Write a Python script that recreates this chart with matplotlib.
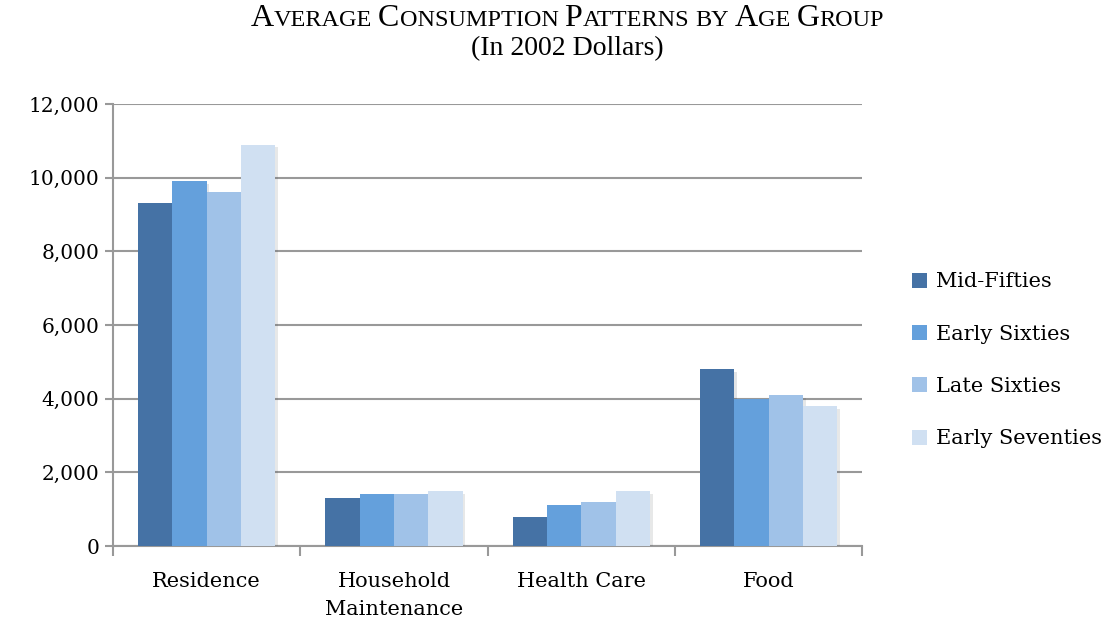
import numpy as np
import matplotlib
matplotlib.use('Agg')
from matplotlib import pyplot as plt
import matplotlib.patheffects as pe
from matplotlib.offsetbox import TextArea, HPacker, AnchoredOffsetbox

categories = ['Residence', 'Household\nMaintenance', 'Health Care', 'Food']
series = ['Mid-Fifties', 'Early Sixties', 'Late Sixties', 'Early Seventies']
mid_fifties = [9300, 1300, 800, 4800]
early_sixties = [9900, 1400, 1100, 4000]
late_sixties = [9600, 1400, 1200, 4100]
early_seventies = [10900, 1500, 1500, 3800]
colors = ['#4572A5', '#64A0DC', '#A0C2E8', '#D0E0F2']

plt.rcParams['font.family'] = 'DejaVu Serif'

fig = plt.figure(figsize=(11.1, 6.25), dpi=100)
ax = fig.add_axes([0.1018, 0.1264, 0.675, 0.7072])

x = np.arange(len(categories))
w = 0.183
values = [mid_fifties, early_sixties, late_sixties, early_seventies]
for i, (name, vals) in enumerate(zip(series, values)):
    ax.bar(x + (i - 1.5) * w, vals, w, color=colors[i], label=name, zorder=3,
           path_effects=[pe.SimplePatchShadow(offset=(2, -2), alpha=0.12), pe.Normal()])

ax.set_xlim(-0.5, 3.5)
ax.set_ylim(0, 12000)
ax.set_yticks(np.arange(0, 12001, 2000))
ax.set_yticklabels(['{:,}'.format(v) for v in range(0, 12001, 2000)], fontsize=14.5)
ax.yaxis.grid(True, color='#999999', linewidth=1.5, zorder=0)
ax.set_xticks(x)
ax.set_xticklabels(categories, fontsize=15, linespacing=1.6)
ax.set_xticks(np.arange(-0.5, 4.0, 1.0), minor=True)
ax.tick_params(axis='x', which='major', length=0, pad=19)
ax.tick_params(axis='x', which='minor', length=7, width=1.5, color='#999999')
ax.tick_params(axis='y', length=6, width=1.5, color='#999999', pad=4)
for s in ['top', 'right']:
    ax.spines[s].set_visible(False)
for s in ['left', 'bottom']:
    ax.spines[s].set_color('#999999')
    ax.spines[s].set_linewidth(1.5)

leg = ax.legend(loc='center left', bbox_to_anchor=(1.067, 0.42), frameon=False,
                fontsize=15, handlelength=0.72, handleheight=0.72,
                handletextpad=0.4, labelspacing=1.6, borderaxespad=0, borderpad=0)
for h in leg.legend_handles:
    h.set_path_effects([])

# small caps title
def small_caps(text, big=23, small=17.5):
    parts = []
    for word in text.split(' '):
        if word.isupper() and len(word) > 2:
            parts.append(TextArea(word[0], textprops=dict(fontsize=big, family='Liberation Serif')))
            parts.append(TextArea(word[1:], textprops=dict(fontsize=small, family='Liberation Serif')))
        else:
            parts.append(TextArea(word.upper(), textprops=dict(fontsize=small, family='Liberation Serif')))
        parts.append(TextArea(' ', textprops=dict(fontsize=small, family='Liberation Serif')))
    return HPacker(children=parts[:-1], align='baseline', pad=0, sep=0)

title = small_caps('AVERAGE CONSUMPTION PATTERNS by AGE GROUP')
box = AnchoredOffsetbox(loc='upper center', child=title, pad=0, frameon=False,
                        bbox_to_anchor=(0.511, 0.993), bbox_transform=fig.transFigure,
                        borderpad=0)
fig.add_artist(box)
fig.text(0.511, 0.912, '(In 2002 Dollars)', ha='center', va='baseline', fontsize=20,
         family='Liberation Serif')

fig.savefig('out.png', dpi=100)
